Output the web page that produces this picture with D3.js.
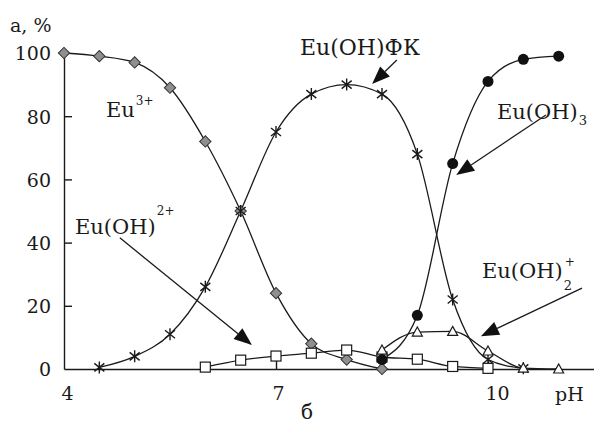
<!DOCTYPE html>
<html>
<head>
<meta charset="utf-8">
<script src="https://cdn.jsdelivr.net/npm/d3@7"></script>
<style>
  body { margin: 0; background: #fff; }
</style>
</head>
<body>
<svg id="chart"></svg>
<script>
// данные (pH, доля %)
const phEu3 = [4.0, 4.5, 5.0, 5.5, 6.0, 6.5, 7.0, 7.5, 8.0, 8.5];
const valEu3 = [100, 99, 97, 89, 72, 50, 24, 8, 3, 0];

const phFK = [4.5, 5.0, 5.5, 6.0, 6.5, 7.0, 7.5, 8.0, 8.5, 9.0, 9.5, 10.0, 10.5];
const valFK = [0.5, 4, 11, 26, 50, 75, 87, 90, 87, 68, 22, 3, 0.2];

const phOH = [6.0, 6.5, 7.0, 7.5, 8.0, 8.5, 9.0, 9.5, 10.0];
const valOH = [0.6, 2.8, 4.1, 5, 6, 3.8, 3.1, 0.8, 0.2];

const phOH2 = [8.5, 9.0, 9.5, 10.0, 10.5, 11.0];
const valOH2 = [6, 11.7, 11.9, 5.7, 0.3, 0];

const phOH3 = [8.5, 9.0, 9.5, 10.0, 10.5, 11.0];
const valOH3 = [3, 17, 65, 91, 98, 99];

const yTicks = [0, 20, 40, 60, 80, 100];
const xTicks = [4, 7, 10];

const width = 594;
const height = 428;
const serif = 'DejaVu Serif, serif';
const ink = '#1a1a1a';

const svg = d3.select('#chart')
  .attr('width', width)
  .attr('height', height);

const x = d3.scaleLinear().domain([4, 11.5]).range([64, 594]);
const y = d3.scaleLinear().domain([0, 100]).range([369, 53]);

// оси
const yAxis = d3.axisLeft(y).tickValues(yTicks).tickSize(-8).tickSizeOuter(0).tickPadding(13);
const gy = svg.append('g')
  .attr('transform', `translate(${x(4)},0)`)
  .call(yAxis)
  .attr('font-family', serif);
gy.selectAll('text').attr('font-family', serif).attr('font-size', 19).attr('fill', ink).attr('dy', '0.36em');
gy.selectAll('line, path').attr('stroke', ink).attr('stroke-width', 1.4);
gy.selectAll('.tick').filter(d => d === 0 || d === 100).select('line').remove();

const xAxis = d3.axisBottom(x).tickValues(xTicks).tickSize(-9).tickSizeOuter(0).tickPadding(0);
const gx = svg.append('g')
  .attr('transform', `translate(0,${y(0)})`)
  .call(xAxis)
  .attr('font-family', serif);
gx.selectAll('text').attr('font-family', serif).attr('font-size', 19).attr('fill', ink)
  .attr('y', 31).attr('dy', 0)
  .attr('dx', d => d === 10 ? 9 : d === 4 ? 3 : 2);
gx.selectAll('line, path').attr('stroke', ink).attr('stroke-width', 1.4);
gx.selectAll('.tick').filter(d => d === 4).select('line').remove();

// кривые
const series = [
  { ph: phEu3, val: valEu3, mark: 'diamond' },
  { ph: phFK, val: valFK, mark: 'star' },
  { ph: phOH, val: valOH, mark: 'square' },
  { ph: phOH2, val: valOH2, mark: 'triangle' },
  { ph: phOH3, val: valOH3, mark: 'circle' }
];

const line = d3.line()
  .x(d => x(d[0]))
  .y(d => y(d[1]))
  .curve(d3.curveMonotoneX);

series.forEach(s => {
  s.pts = s.ph.map((p, i) => [p, s.val[i]]);
  svg.append('path')
    .attr('d', line(s.pts))
    .attr('fill', 'none')
    .attr('stroke', ink)
    .attr('stroke-width', 1.3);
});

const starPath = 'M0,-6V6M-5,-4L5,4M-5,4L5,-4';

series.forEach(s => {
  const g = svg.append('g');
  const pts = g.selectAll('.m').data(s.pts).enter();
  if (s.mark === 'diamond') {
    pts.append('path')
      .attr('d', d3.symbol(d3.symbolSquare, 64)())
      .attr('transform', d => `translate(${x(d[0])},${y(d[1])}) rotate(45)`)
      .attr('fill', '#8f8f8f').attr('stroke', '#333').attr('stroke-width', 1);
  } else if (s.mark === 'square') {
    pts.append('rect')
      .attr('x', d => x(d[0]) - 5).attr('y', d => y(d[1]) - 5)
      .attr('width', 10).attr('height', 10)
      .attr('fill', '#fff').attr('stroke', ink).attr('stroke-width', 1.2);
  } else if (s.mark === 'triangle') {
    pts.append('path')
      .attr('d', 'M0,-5L5,4L-5,4Z')
      .attr('transform', d => `translate(${x(d[0])},${y(d[1])})`)
      .attr('fill', '#fff').attr('stroke', ink).attr('stroke-width', 1.2);
  } else if (s.mark === 'circle') {
    pts.append('circle')
      .attr('cx', d => x(d[0])).attr('cy', d => y(d[1])).attr('r', 5.5)
      .attr('fill', '#111');
  } else {
    pts.append('path')
      .attr('d', starPath)
      .attr('transform', d => `translate(${x(d[0])},${y(d[1])})`)
      .attr('fill', 'none').attr('stroke', ink).attr('stroke-width', 1.4);
  }
});

// стрелки (начало и конец в единицах pH / %)
const arrows = [
  [[4.79, 41.5], [6.66, 7.6]],
  [[8.71, 97.8], [8.36, 90.2]],
  [[10.82, 80.4], [9.55, 61.4]],
  [[11.33, 25.6], [9.90, 10.4]]
];

arrows.forEach(a => {
  const x1 = x(a[0][0]), y1 = y(a[0][1]);
  const x2 = x(a[1][0]), y2 = y(a[1][1]);
  const ang = Math.atan2(y2 - y1, x2 - x1);
  const len = 18, half = 7;
  const bx = x2 - len * Math.cos(ang), by = y2 - len * Math.sin(ang);
  svg.append('line')
    .attr('x1', x1).attr('y1', y1).attr('x2', bx).attr('y2', by)
    .attr('stroke', ink).attr('stroke-width', 1.3);
  const px = -Math.sin(ang) * half, py = Math.cos(ang) * half;
  svg.append('path')
    .attr('d', `M${x2},${y2}L${bx + px},${by + py}L${bx - px},${by - py}Z`)
    .attr('fill', '#111');
});

// подписи
function label(px, py, main, size, sub, subDy, sup, supDy) {
  const t = svg.append('text')
    .attr('x', px).attr('y', py)
    .attr('font-family', serif)
    .attr('font-size', size)
    .attr('fill', ink)
    .text(main);
  const w = t.node().getComputedTextLength();
  if (sub) {
    svg.append('text').attr('x', px + w + 1).attr('y', py + subDy)
      .attr('font-family', serif).attr('fill', ink)
      .attr('font-size', 13).text(sub);
  }
  if (sup) {
    svg.append('text').attr('x', px + w + (sub ? 2 : 1)).attr('y', py - supDy)
      .attr('font-family', serif).attr('fill', ink)
      .attr('font-size', 12).text(sup);
  }
}

label(10, 32, 'a, %', 19);
label(106, 117, 'Eu', 21, null, 0, '3+', 12);
label(300, 55, 'Eu(OH)ФК', 22);
label(497, 119, 'Eu(OH)', 21, '3', 6);
label(75, 234, 'Eu(OH)', 21, null, 0, '2+', 19);
label(482, 278, 'Eu(OH)', 21, '2', 12, '+', 12);
label(555, 401, 'pH', 19);
label(301, 419, 'б', 20);
</script>
</body>
</html>
